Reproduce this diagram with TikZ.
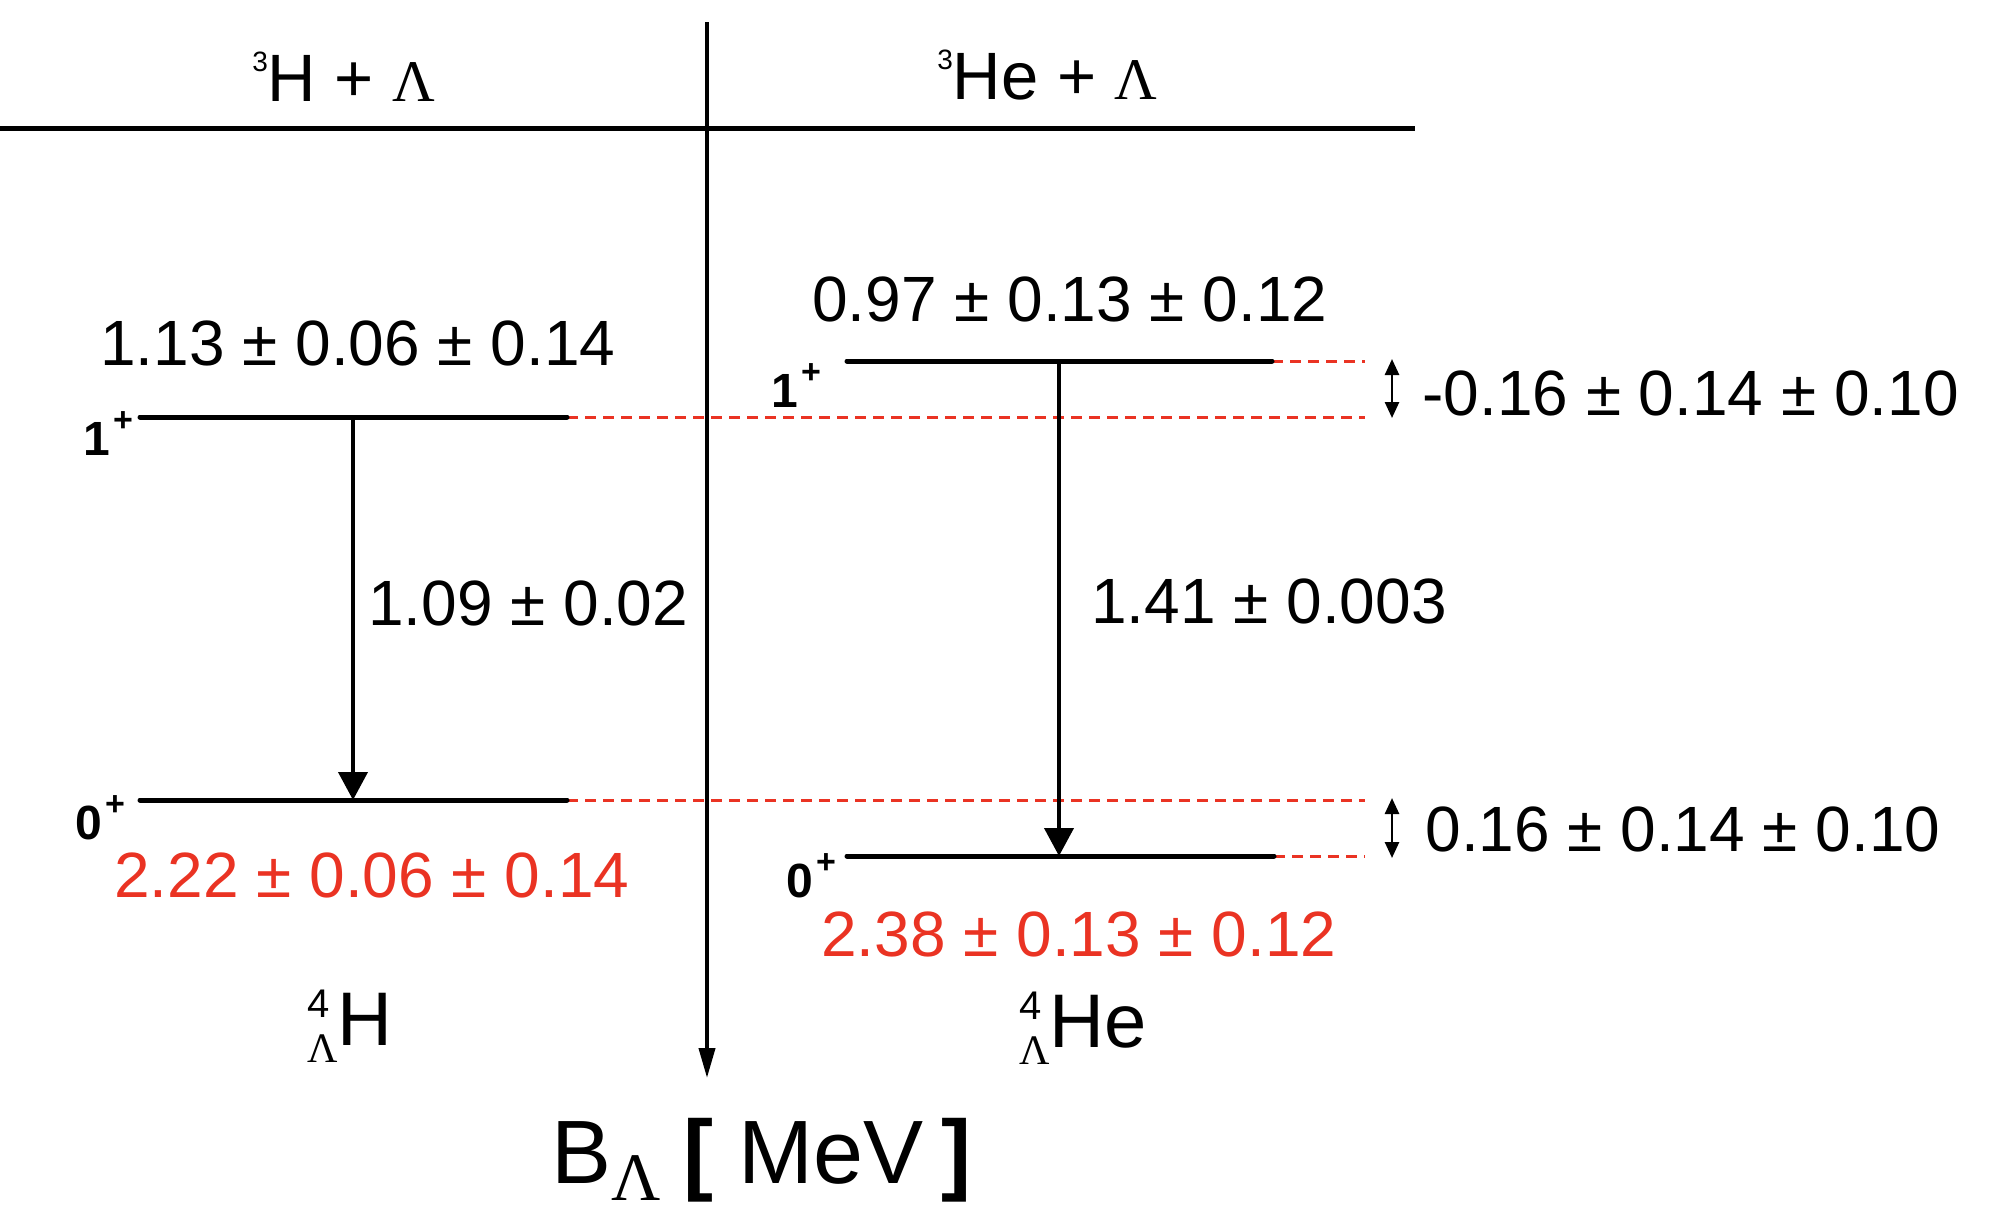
\documentclass[tikz,border=0pt]{standalone}
\usepackage{fontspec}
\setmainfont{Liberation Sans}
\newfontfamily\lsf{Liberation Serif}
\usetikzlibrary{arrows.meta}
\definecolor{vred}{RGB}{234,51,35}
\newcommand{\fsz}[1]{\fontsize{#1}{#1}\selectfont}
\newcommand{\plabel}[1]{{\bfseries\fsz{24}#1\kern1.5pt\raisebox{12pt}{\fsz{17}+}}}
\begin{document}
\begin{tikzpicture}[x=0.5pt,y=-0.5pt,
  lvl/.style={line width=2.5pt, line cap=round},
  guide/.style={vred, line width=1.5pt, dash pattern=on 5.5pt off 3.5pt},
  trans/.style={line width=2pt, -{Triangle[length=14pt,width=14.5pt]}},
  axisline/.style={line width=2pt, -{Triangle[length=15pt,width=8pt]}},
  diff/.style={line width=1.3pt, {Triangle[length=8pt,width=7pt]}-{Triangle[length=8pt,width=7pt]}},
  lab/.style={anchor=base west, inner sep=0pt, font=\fsz{32}},
  rlab/.style={lab, text=vred},
  spin/.style={anchor=base west, inner sep=0pt}]
\useasboundingbox (0,0) rectangle (2008,1228);
% top threshold line and axis
\coordinate (tl) at (0,128); \coordinate (tr) at (1415,128);
\draw[line width=2.5pt] (tl) -- (tr);
\coordinate (ax0) at (707,22); \coordinate (ax1) at (707,1078);
\draw[axisline] (ax0) -- (ax1);
% level end points
\coordinate (H1a) at (140,417); \coordinate (H1b) at (567,417);
\coordinate (H0a) at (140,800); \coordinate (H0b) at (567,800);
\coordinate (E1a) at (847,361); \coordinate (E1b) at (1272,361);
\coordinate (E0a) at (847,856); \coordinate (E0b) at (1274,856);
\coordinate (g1) at (1365,417); \coordinate (g0) at (1365,800);
\coordinate (g1e) at (1365,361); \coordinate (g0e) at (1365,856);
% red guides
\draw[guide] (H1b) -- (g1);
\draw[guide] (H0b) -- (g0);
\draw[guide] (E1b) -- (g1e);
\draw[guide] (E0b) -- (g0e);
% levels
\draw[lvl] (H1a) -- (H1b);
\draw[lvl] (H0a) -- (H0b);
\draw[lvl] (E1a) -- (E1b);
\draw[lvl] (E0a) -- (E0b);
% transitions
\coordinate (tH1) at (353,417); \coordinate (tH0) at (353,800);
\coordinate (tE1) at (1059,361); \coordinate (tE0) at (1059,856);
\draw[trans] (tH1) -- (tH0);
\draw[trans] (tE1) -- (tE0);
% differences
\coordinate (d1a) at (1392,359); \coordinate (d1b) at (1392,418);
\coordinate (d0a) at (1392,798); \coordinate (d0b) at (1392,858);
\draw[diff] (d1a) -- (d1b);
\draw[diff] (d0a) -- (d0b);
% texts
\node[lab] (thH) at (252,101) {\raisebox{15pt}{\fsz{14}3}\fsz{33.5}H + {\lsf\fsz{29.5}Λ}};
\node[lab] (thE) at (937,99) {\raisebox{15pt}{\fsz{14}3}\fsz{33.5}He + {\lsf\fsz{29.5}Λ}};
\node[lab] (eH1) at (100,365) {1.13 ± 0.06 ± 0.14};
\node[lab] (eE1) at (812,321) {0.97 ± 0.13 ± 0.12};
\node[lab] (dd1) at (1422,415) {-0.16 ± 0.14 ± 0.10};
\node[lab] (dd0) at (1425,851) {0.16 ± 0.14 ± 0.10};
\node[lab] (gH) at (368,625) {1.09 ± 0.02};
\node[lab] (gE) at (1091,623) {1.41 ± 0.003};
\node[rlab] (eH0) at (114,897) {2.22 ± 0.06 ± 0.14};
\node[rlab] (eE0) at (821,956) {2.38 ± 0.13 ± 0.12};
\node[spin] (sH1) at (83,455) {\plabel{1}};
\node[spin] (sE1) at (771,407) {\plabel{1}};
\node[spin] (sH0) at (75,839) {\plabel{0}};
\node[spin] (sE0) at (786,897) {\plabel{0}};
\node[spin] (nH) at (307,1045) {\rlap{\raisebox{14pt}{\fsz{20}4}}\raisebox{-8.5pt}{\lsf\fsz{21}Λ}\fsz{38}H};
\node[spin] (nE) at (1019,1047) {\rlap{\raisebox{14pt}{\fsz{20}4}}\raisebox{-8.5pt}{\lsf\fsz{21}Λ}\fsz{38}He};
\node[spin] (unit) at (551,1183) {\fsz{45}B\raisebox{-8.5pt}{\lsf\fsz{34}Λ}\kern11.5pt{\bfseries [}\kern12.5pt MeV\kern9pt{\bfseries ]}};
\end{tikzpicture}
\end{document}
